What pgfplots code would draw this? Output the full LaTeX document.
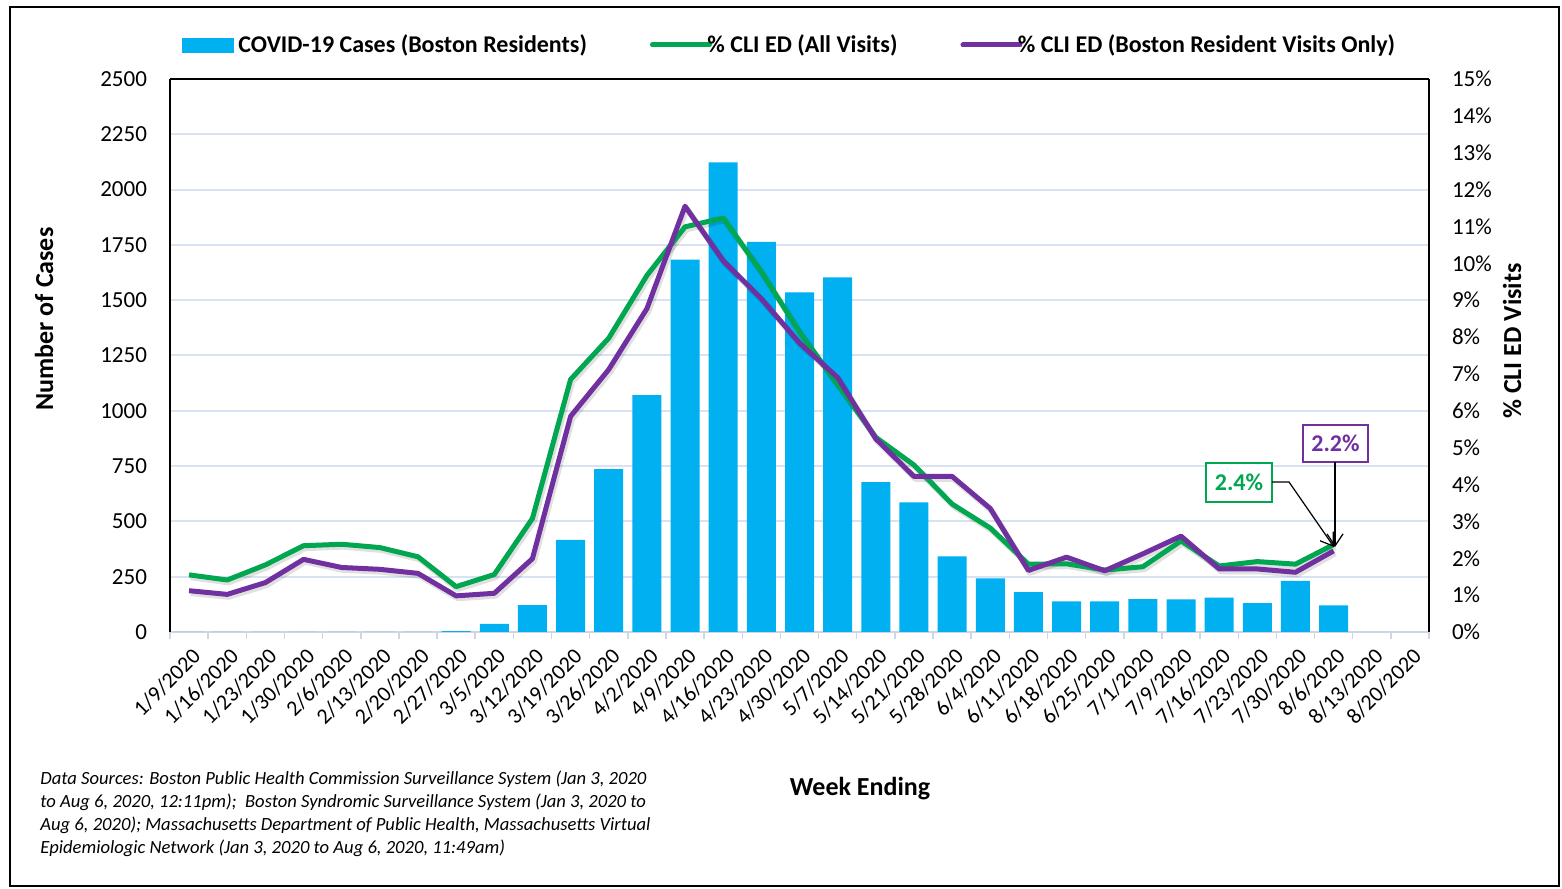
\documentclass[border=0pt]{standalone}
\usepackage{fontspec}
\setmainfont{Carlito}
\usepackage{pgfplots}
\pgfplotsset{compat=1.18}
\usepackage{pgfplotstable}
\usetikzlibrary{arrows.meta}

\definecolor{barblue}{RGB}{0,176,240}
\definecolor{cligreen}{RGB}{0,166,80}
\definecolor{clipurple}{RGB}{112,48,160}
\definecolor{gridblue}{RGB}{217,226,243}
\definecolor{tickgray}{RGB}{205,214,228}

% weekly COVID-19 cases (Boston residents)
\pgfplotstableread{
idx cases
0 0
1 0
2 0
3 0
4 0
5 0
6 0
7 4
8 37
9 122
10 417
11 736
12 1071
13 1683
14 2123
15 1764
16 1535
17 1603
18 677
19 586
20 342
21 242
22 180
23 138
24 139
25 149
26 148
27 155
28 131
29 231
30 120
}\casetable

% percent CLI ED visits
\pgfplotstableread{
idx all boston
0 1.55 1.12
1 1.41 1.02
2 1.82 1.34
3 2.34 1.97
4 2.38 1.75
5 2.29 1.70
6 2.04 1.59
7 1.23 0.98
8 1.56 1.05
9 3.08 1.99
10 6.85 5.85
11 7.97 7.12
12 9.67 8.77
13 10.99 11.55
14 11.23 10.07
15 9.77 9.04
16 8.14 7.84
17 6.71 6.90
18 5.28 5.24
19 4.53 4.22
20 3.47 4.22
21 2.82 3.35
22 1.84 1.67
23 1.85 2.03
24 1.68 1.66
25 1.77 2.12
26 2.47 2.60
27 1.79 1.71
28 1.91 1.71
29 1.84 1.62
30 2.37 2.20
}\clitable

\begin{document}
\begin{tikzpicture}[x=0.5pt,y=0.5pt]
\path[use as bounding box] (0,0) rectangle (1562,888);
\draw[black, line width=0.75pt] (10,2) rectangle (1559,881);

\begin{axis}[
  at={(85pt,128pt)}, anchor=south west,
  scale only axis, width=629.5pt, height=276.5pt,
  xmin=-0.5, xmax=32.5, ymin=0, ymax=2500,
  ytick={0,250,...,2500},
  yticklabels={0,250,500,750,1000,1250,1500,1750,2000,2250,2500},
  ymajorgrids, grid style={gridblue, line width=1pt},
  xtick={0,...,32},
  xticklabels={1/9/2020,1/16/2020,1/23/2020,1/30/2020,2/6/2020,2/13/2020,2/20/2020,2/27/2020,3/5/2020,3/12/2020,3/19/2020,3/26/2020,4/2/2020,4/9/2020,4/16/2020,4/23/2020,4/30/2020,5/7/2020,5/14/2020,5/21/2020,5/28/2020,6/4/2020,6/11/2020,6/18/2020,6/25/2020,7/1/2020,7/9/2020,7/16/2020,7/23/2020,7/30/2020,8/6/2020,8/13/2020,8/20/2020},
  x tick label style={rotate=45, anchor=east, font=\fontsize{11}{13}\selectfont, inner sep=1pt, yshift=-10pt, xshift=-3.5pt},
  y tick label style={font=\fontsize{11.5}{13}\selectfont, xshift=-8pt},
  major tick length=0pt,
  extra x ticks={-0.5,0.5,...,32.5}, extra x tick labels={},
  extra x tick style={major tick length=3.5pt, tick align=outside, tick style={tickgray, line width=0.75pt}, grid=none},
  axis x line*=bottom, axis y line*=left,
  x axis line style={tickgray, line width=1pt, -},
  y axis line style={black, line width=0.8pt, -},
]
\addplot[ybar, bar width=14.5pt, fill=barblue, draw=none] table[x=idx,y=cases]{\casetable};
\end{axis}

\begin{axis}[
  at={(85pt,128pt)}, anchor=south west,
  scale only axis, width=629.5pt, height=276.5pt,
  xmin=-0.5, xmax=32.5, ymin=0, ymax=15,
  axis y line*=right, axis x line*=top,
  xtick=\empty,
  ytick={0,...,15},
  yticklabels={0\%,1\%,2\%,3\%,4\%,5\%,6\%,7\%,8\%,9\%,10\%,11\%,12\%,13\%,14\%,15\%},
  y tick label style={font=\fontsize{11.5}{13}\selectfont, xshift=8pt},
  major tick length=0pt,
  axis line style={black, line width=0.8pt, -},
  legend columns=3,
  legend style={draw=none, fill=none, at={(0.4925,1.0615)}, anchor=center,
    font=\bfseries\fontsize{12}{14}\selectfont,
    /tikz/every even column/.append style={column sep=31.5pt},
    nodes={inner sep=1.5pt}},
  legend image code/.code={\draw[#1, line cap=round, overlay] (-1.5pt,0pt) -- (27pt,0pt);
    \pgfpathrectangle{\pgfpoint{-1.25pt}{-3pt}}{\pgfpoint{25.75pt}{6pt}}\pgfusepath{use as bounding box}},
]
\addlegendimage{legend image code/.code={\fill[barblue] (0pt,-3.5pt) rectangle (25.5pt,3.5pt);
    \pgfpathrectangle{\pgfpoint{0pt}{-3.5pt}}{\pgfpoint{26.5pt}{7pt}}\pgfusepath{use as bounding box}}}
\addlegendentry{COVID-19 Cases (Boston Residents)}
% soft drop shadows of the lines
\addplot[black, opacity=0.12, line width=3pt, line join=round, mark=none, forget plot, xshift=0.8pt, yshift=-1.2pt] table[x=idx,y=all]{\clitable};
\addplot[black, opacity=0.12, line width=3pt, line join=round, mark=none, forget plot, xshift=0.8pt, yshift=-1.2pt] table[x=idx,y=boston]{\clitable};
\addplot[cligreen, line width=2.5pt, line join=round, mark=none] table[x=idx,y=all]{\clitable};
\addlegendentry{\% CLI ED (All Visits)}
\addplot[clipurple, line width=2.5pt, line join=round, mark=none] table[x=idx,y=boston]{\clitable};
\addlegendentry{\% CLI ED (Boston Resident Visits Only)}
\end{axis}

% axis titles
\node[rotate=90, font=\bfseries\fontsize{13}{15}\selectfont] at (44,569) {Number of Cases};
\node[rotate=90, font=\bfseries\fontsize{13}{15}\selectfont] at (1512,547) {\% CLI ED Visits};
\node[font=\bfseries\fontsize{13}{15}\selectfont] at (860,99) {Week Ending};

% data sources
\node[anchor=north west, align=left, inner sep=0pt, font=\itshape\fontsize{9.3}{11.5}\selectfont] at (40,117)
{Data Sources: Boston Public Health Commission Surveillance System (Jan 3, 2020\\
to Aug 6, 2020, 12:11pm);\ \ Boston Syndromic Surveillance System (Jan 3, 2020 to\\
Aug 6, 2020); Massachusetts Department of Public Health, Massachusetts Virtual\\
Epidemiologic Network (Jan 3, 2020 to Aug 6, 2020, 11:49am)};

% callouts
\node[draw=cligreen, line width=1pt, fill=white, text=cligreen, font=\bfseries\fontsize{12}{14}\selectfont,
  minimum width=33pt, minimum height=19.5pt, inner sep=0pt] at (1239,405.5) {2.4\%};
\node[draw=clipurple, line width=1pt, fill=white, text=clipurple, font=\bfseries\fontsize{12}{14}\selectfont,
  minimum width=32.5pt, minimum height=18.5pt, inner sep=0pt] at (1335.5,444.5) {2.2\%};
\draw[black, line width=0.6pt, -{Straight Barb[length=6pt,width=8pt]}] (1272,406) -- (1289,406) -- (1334,341);
\draw[black, line width=0.6pt, -{Straight Barb[length=6pt,width=8pt]}] (1335,426) -- (1335,341);
\end{tikzpicture}
\end{document}
